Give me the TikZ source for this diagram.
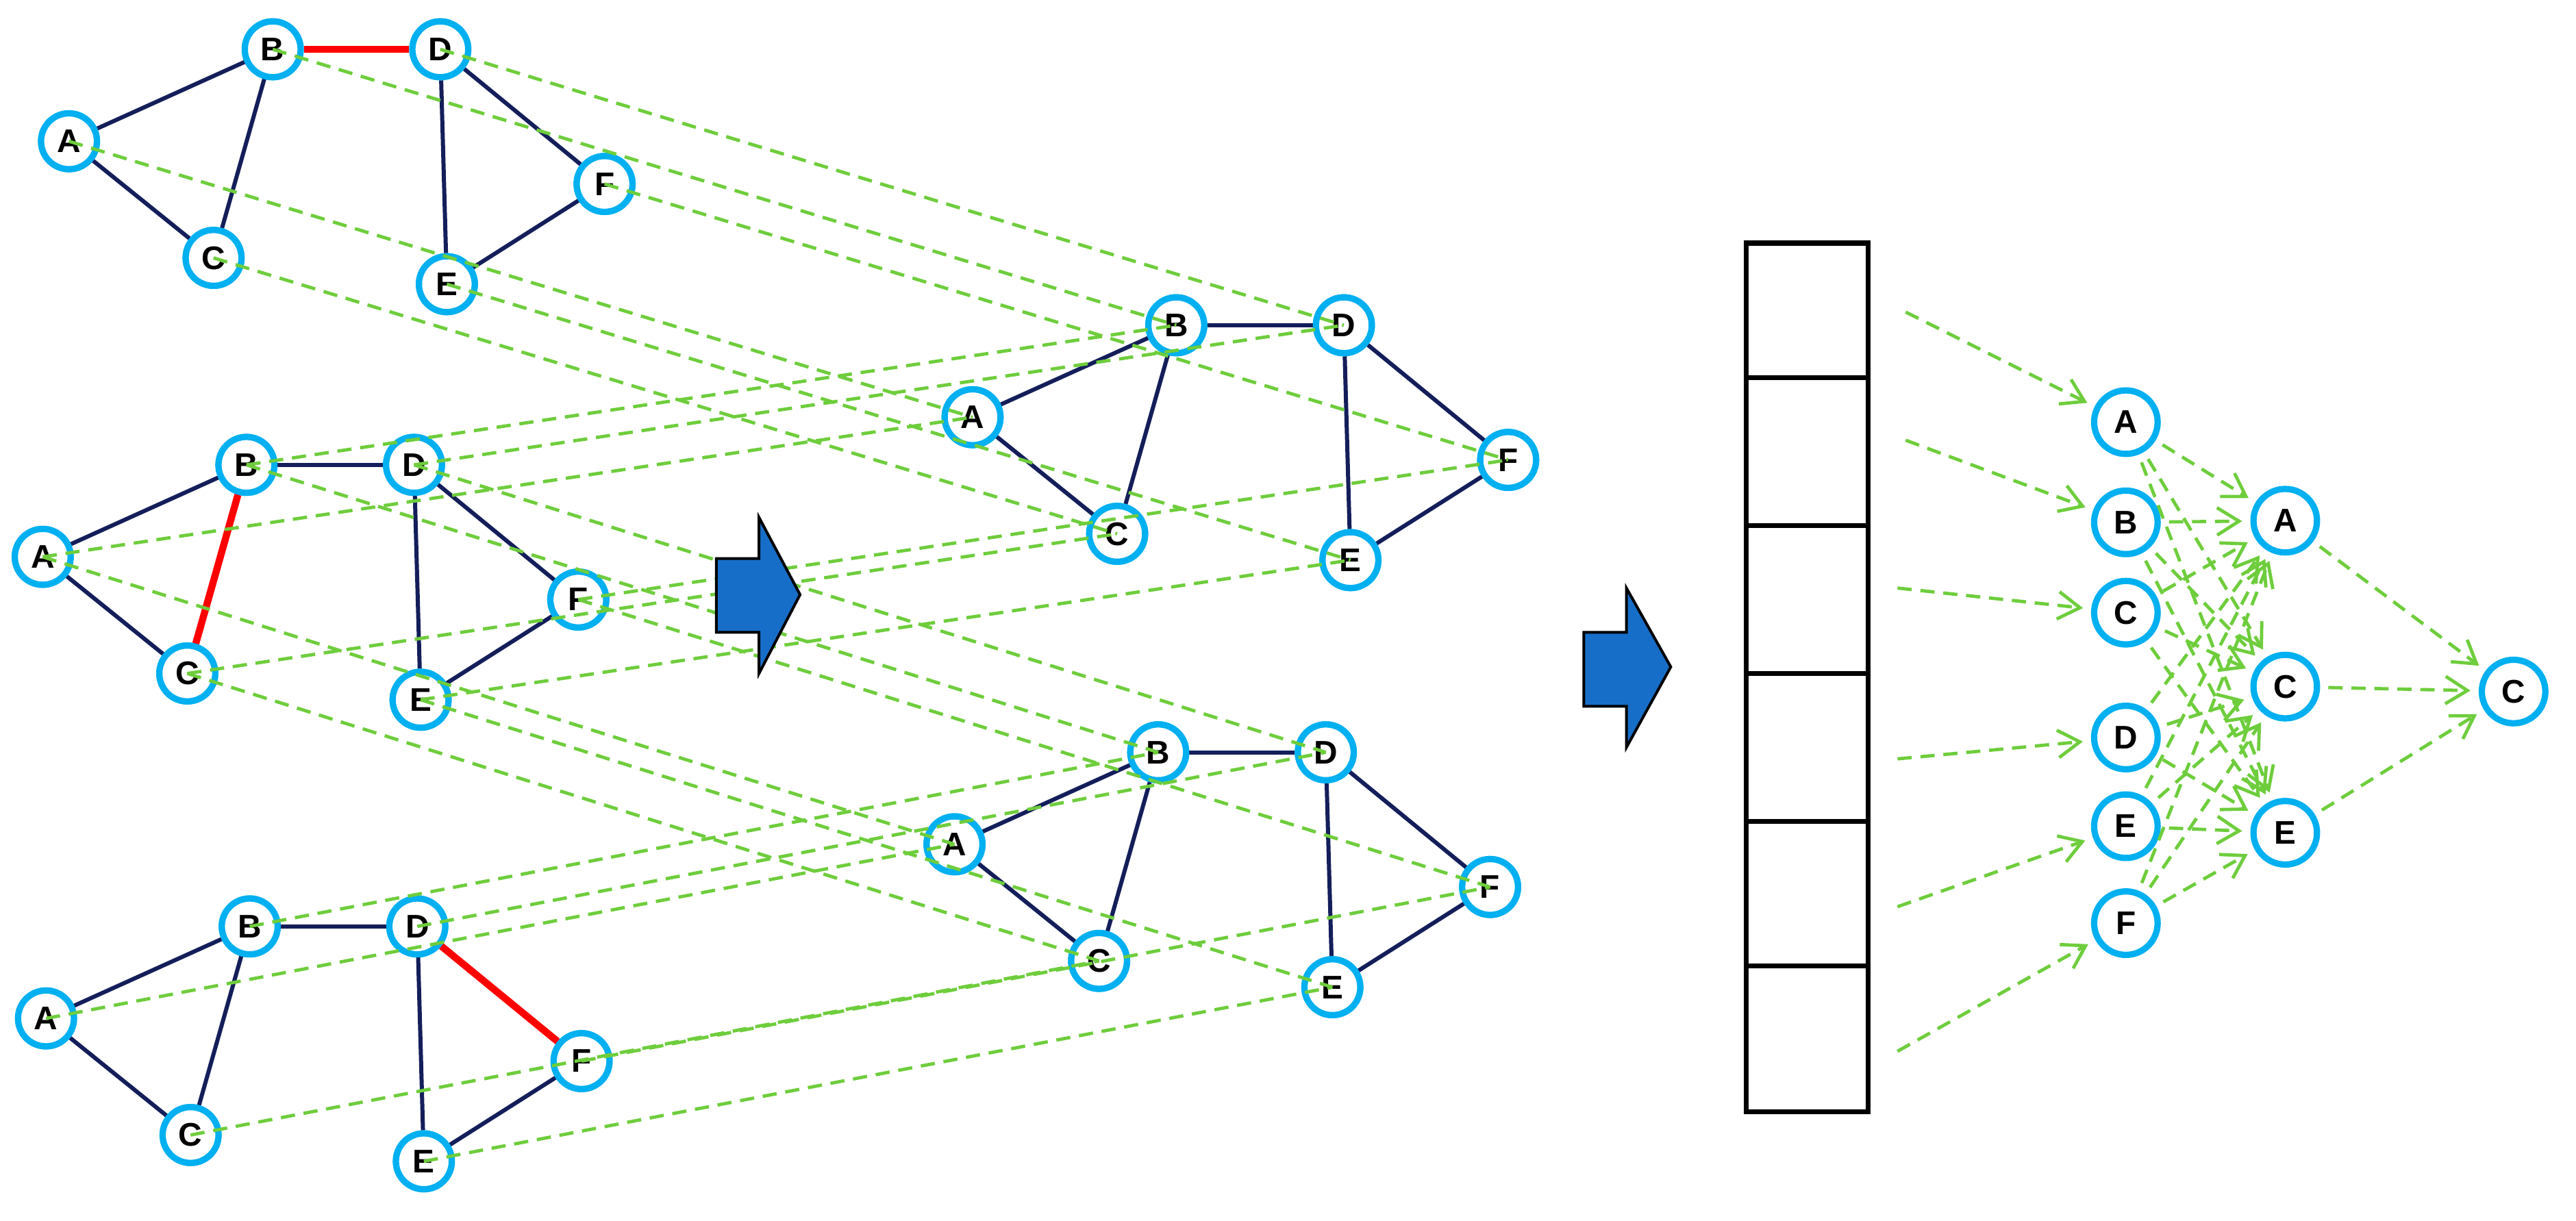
\documentclass[tikz,border=0pt]{standalone}
\usepackage{fontspec}
\setmainfont{Liberation Sans}
\usetikzlibrary{arrows.meta}
\definecolor{cyanb}{RGB}{0,176,240}
\definecolor{navy}{RGB}{20,30,90}
\definecolor{gdash}{RGB}{110,205,60}
\definecolor{barrow}{RGB}{23,110,200}
\begin{document}
\begin{tikzpicture}[x=0.3mm,y=-0.3mm,
  nd/.style={circle,draw=cyanb,line width=1.15mm,fill=white,minimum size=10.2mm,inner sep=0pt,font=\fontsize{17}{17}\selectfont\bfseries},
  nd2/.style={nd,minimum size=11.6mm},
  edge/.style={draw=navy,line width=0.75mm},
  redE/.style={draw=red,line width=1.3mm},
  gl/.style={draw=gdash,line width=0.6mm,dash pattern=on 2.6mm off 1.6mm},
  ga/.style={gl,-{Straight Barb[length=4mm,width=5mm,line width=0.6mm]},shorten >=1.5mm,shorten <=1.5mm},
  blk/.style={draw=black,line width=0.5mm,fill=barrow}]
\useasboundingbox (0,0) rectangle (1568,743);
% graphs
\foreach \g/\bx/\by in {1/166/30,2/150/283,3/152/564,4/716/198,5/705/458}{
  \begin{scope}[shift={(\bx,\by)}]
    \node[nd] (g\g B) at (0,0) {B};
    \node[nd] (g\g A) at (-124,56) {A};
    \node[nd] (g\g C) at (-36,127) {C};
    \node[nd] (g\g D) at (102,0) {D};
    \node[nd] (g\g E) at (106,143) {E};
    \node[nd] (g\g F) at (202,82) {F};
  \end{scope}
}
\begin{scope}[on background layer/.style={}]
\end{scope}
% edges (drawn between named nodes)
\foreach \g in {1,2,3,4,5}{
  \foreach \u/\v in {A/B,A/C,B/C,B/D,D/F,D/E,E/F}{
    \path[edge] (g\g\u) -- (g\g\v);
  }
}
\path[redE] (g1B) -- (g1D);
\path[redE] (g2B) -- (g2C);
\path[redE] (g3D) -- (g3F);
% redraw nodes on top of edges
\foreach \g/\bx/\by in {1/166/30,2/150/283,3/152/564,4/716/198,5/705/458}{
  \begin{scope}[shift={(\bx,\by)}]
    \node[nd] at (0,0) {B};
    \node[nd] at (-124,56) {A};
    \node[nd] at (-36,127) {C};
    \node[nd] at (102,0) {D};
    \node[nd] at (106,143) {E};
    \node[nd] at (202,82) {F};
  \end{scope}
}
% correspondence lines
\foreach \s/\t in {1/4,2/4,2/5,3/5}{
  \foreach \l in {A,B,C,D,E,F}{
    \path[gl] (g\s\l.center) -- (g\t\l.center);
  }
}
% block arrows
\path[blk] (436,340) -- (462,340) -- (462,315) -- (487,362) -- (462,410) -- (462,385) -- (436,385) -- cycle;
\path[blk] (964,385) -- (990,385) -- (990,358) -- (1017,406) -- (990,455) -- (990,430) -- (964,430) -- cycle;
% vector
\foreach \ya/\yb [count=\i] in {148/230,230/320,320/410,410/500,500/588,588/677}{
  \node[draw=black,line width=0.9mm,minimum width=22.2mm,minimum height={(\yb-\ya)*0.3mm},inner sep=0pt] (v\i) at (1100,{(\ya+\yb)/2}) {};
}
% right network
\foreach \l/\y in {A/257,B/318,C/373,D/449,E/503,F/562}{
  \node[nd2] (h\l) at (1294,\y) {\l};
}
\foreach \l/\y in {A/317,C/418,E/507}{
  \node[nd2] (o\l) at (1391,\y) {\l};
}
\node[nd2] (fC) at (1530,421) {C};
\coordinate (i1) at (1160,190);
\coordinate (i2) at (1160,268);
\coordinate (i3) at (1155,358);
\coordinate (i4) at (1155,462);
\coordinate (i5) at (1155,552);
\coordinate (i6) at (1155,640);
\path[ga,shorten <=0mm] (i1) -- (hA);
\path[ga,shorten <=0mm] (i2) -- (hB);
\path[ga,shorten <=0mm] (i3) -- (hC);
\path[ga,shorten <=0mm] (i4) -- (hD);
\path[ga,shorten <=0mm] (i5) -- (hE);
\path[ga,shorten <=0mm] (i6) -- (hF);
\foreach \a in {A,B,C,D,E,F}{
  \foreach \b in {A,C,E}{
    \path[ga] (h\a) -- (o\b);
  }
}
\path[ga] (oA) -- (fC);
\path[ga] (oC) -- (fC);
\path[ga] (oE) -- (fC);
\end{tikzpicture}
\end{document}
